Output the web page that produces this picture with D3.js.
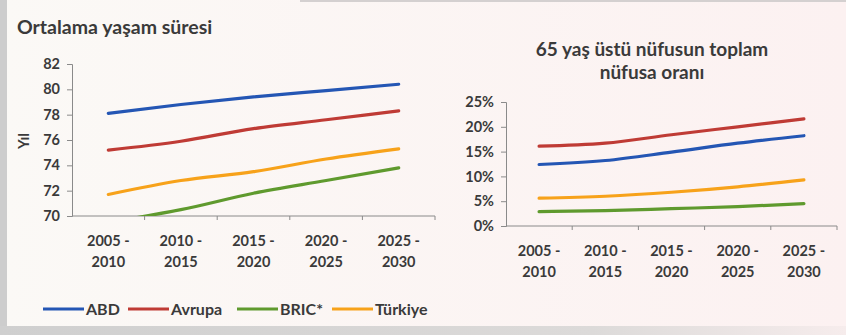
<!DOCTYPE html>
<html>
<head>
<meta charset="utf-8">
<script src="https://cdn.jsdelivr.net/npm/d3@7"></script>
<style>
  html, body { margin: 0; padding: 0; background: #fbf7f5; }
  svg { display: block; }
  text { font-family: Lato, "Open Sans", sans-serif; font-weight: 700; fill: #3a3a3a; }
</style>
</head>
<body>
<svg id="chart" width="846" height="335"></svg>
<script>
// Period categories shared by both panels (two-line labels)
const periods = ["2005 - 2010", "2010 - 2015", "2015 - 2020", "2020 - 2025", "2025 - 2030"];
const periodLines = [["2005 -", "2010"], ["2010 -", "2015"], ["2015 -", "2020"], ["2020 -", "2025"], ["2025 -", "2030"]];

const seriesNames = ["ABD", "Avrupa", "BRIC*", "Türkiye"];
const seriesColors = ["#2456b4", "#bf3b35", "#5f9a2e", "#f7a21a"];

// Life expectancy (years)
const lifeABD     = [78.1, 78.8, 79.4, 79.9, 80.4];
const lifeAvrupa  = [75.2, 75.9, 76.9, 77.6, 78.3];
const lifeBRIC    = [69.5, 70.5, 71.8, 72.8, 73.8];
const lifeTurkiye = [71.7, 72.8, 73.5, 74.5, 75.3];
const lifeTicks = [70, 72, 74, 76, 78, 80, 82];

// Share of population aged 65+ (%)
const oldABD     = [12.4, 13.2, 14.9, 16.7, 18.2];
const oldAvrupa  = [16.1, 16.7, 18.4, 20.0, 21.6];
const oldBRIC    = [2.9, 3.1, 3.5, 3.9, 4.5];
const oldTurkiye = [5.6, 6.0, 6.8, 7.9, 9.3];
const oldTicks = [0, 5, 10, 15, 20, 25];

const svg = d3.select("#chart");

// Page frame: grey strip on the left and along the bottom
const defs = svg.append("defs");
const gBottom = defs.append("linearGradient").attr("id", "bottomBand");
gBottom.append("stop").attr("offset", "0%").attr("stop-color", "#cfcfcf");
gBottom.append("stop").attr("offset", "70%").attr("stop-color", "#dcdad9");
gBottom.append("stop").attr("offset", "100%").attr("stop-color", "#f6ecec");
const gBg = defs.append("linearGradient").attr("id", "bgFill");
gBg.append("stop").attr("offset", "0%").attr("stop-color", "#fbf9f6");
gBg.append("stop").attr("offset", "100%").attr("stop-color", "#fcf1f1");

svg.append("rect").attr("width", 846).attr("height", 335).attr("fill", "url(#bgFill)");
svg.append("rect").attr("x", 0).attr("y", 0).attr("width", 7).attr("height", 335).attr("fill", "#cdcdcd");
svg.append("rect").attr("x", 0).attr("y", 326).attr("width", 846).attr("height", 9).attr("fill", "url(#bottomBand)");
svg.append("rect").attr("x", 300).attr("y", 0).attr("width", 546).attr("height", 2).attr("fill", "#d4d0d0");

function panel(opts) {
  const { x0, x1, yTop, yBot, domain, ticks, fmt, data, clipId } = opts;
  const x = d3.scaleBand().domain(periods).range([x0, x1]);
  const y = d3.scaleLinear().domain(domain).range([yBot, yTop]);
  const g = svg.append("g");

  // y axis
  const ya = g.append("g").attr("transform", `translate(${x0},0)`)
    .call(d3.axisLeft(y).tickValues(ticks).tickSize(5).tickPadding(7).tickFormat(fmt));
  ya.select(".domain").attr("stroke", "#8a8a8a");
  ya.selectAll(".tick line").attr("stroke", "#8a8a8a");
  ya.selectAll("text").attr("font-size", 14.5).attr("fill", "#3a3a3a")
    .attr("font-family", "Lato, sans-serif").attr("font-weight", 700);

  // x axis with boundary ticks
  const bounds = periods.map(p => x(p)).concat([x1]);
  g.append("line").attr("x1", x0).attr("x2", x1).attr("y1", yBot).attr("y2", yBot)
    .attr("stroke", "#8a8a8a");
  g.selectAll(".xtick").data(bounds.slice(1)).join("line")
    .attr("x1", d => d).attr("x2", d => d).attr("y1", yBot).attr("y2", yBot + 4)
    .attr("stroke", "#8a8a8a");
  periods.forEach((p, i) => {
    const t = g.append("text").attr("x", x(p) + x.bandwidth() / 2).attr("y", yBot + 30)
      .attr("text-anchor", "middle").attr("font-size", 14.5);
    t.append("tspan").attr("x", x(p) + x.bandwidth() / 2).text(periodLines[i][0]);
    t.append("tspan").attr("x", x(p) + x.bandwidth() / 2).attr("dy", 21).text(periodLines[i][1]);
  });

  defs.append("clipPath").attr("id", clipId).append("rect")
    .attr("x", x0).attr("y", yTop - 10).attr("width", x1 - x0).attr("height", yBot - yTop + 10);

  const line = d3.line()
    .x((d, i) => x(periods[i]) + x.bandwidth() / 2)
    .y(d => y(d))
    .curve(d3.curveMonotoneX);

  g.append("g").attr("clip-path", `url(#${clipId})`)
    .selectAll("path").data(data).join("path")
    .attr("d", d => line(d.values))
    .attr("fill", "none")
    .attr("stroke", d => d.color)
    .attr("stroke-width", 3.2)
    .attr("stroke-linecap", "round");
  return g;
}

const lifeData = [
  { values: lifeABD, color: seriesColors[0] },
  { values: lifeAvrupa, color: seriesColors[1] },
  { values: lifeBRIC, color: seriesColors[2] },
  { values: lifeTurkiye, color: seriesColors[3] }
];
const oldData = [
  { values: oldABD, color: seriesColors[0] },
  { values: oldAvrupa, color: seriesColors[1] },
  { values: oldBRIC, color: seriesColors[2] },
  { values: oldTurkiye, color: seriesColors[3] }
];

panel({ x0: 72, x1: 435, yTop: 64, yBot: 216, domain: [70, 82], ticks: lifeTicks,
        fmt: d => d, data: lifeData, clipId: "clipLife" });
panel({ x0: 506, x1: 837, yTop: 102, yBot: 226, domain: [0, 25], ticks: oldTicks,
        fmt: d => d + "%", data: oldData, clipId: "clipOld" });

// Titles
svg.append("text").attr("x", 17).attr("y", 34).attr("font-size", 19.5)
  .text("Ortalama yaşam süresi");
svg.append("text").attr("x", 652).attr("y", 56).attr("text-anchor", "middle").attr("font-size", 19)
  .text("65 yaş üstü nüfusun toplam");
svg.append("text").attr("x", 652).attr("y", 79).attr("text-anchor", "middle").attr("font-size", 19)
  .text("nüfusa oranı");

// Y axis title
svg.append("text").attr("transform", "translate(29,141) rotate(-90)")
  .attr("text-anchor", "middle").attr("font-size", 15).text("Yıl");

// Legend
const legendX = [43, 128, 237, 332];
const legend = svg.append("g").selectAll("g").data(seriesNames).join("g")
  .attr("transform", (d, i) => `translate(${legendX[i]},309)`);
legend.append("line").attr("x1", 0).attr("x2", 41).attr("y1", 0).attr("y2", 0)
  .attr("stroke", (d, i) => seriesColors[i]).attr("stroke-width", 3.2);
legend.append("text").attr("x", 43).attr("y", 5.5).attr("font-size", 16).text(d => d);
</script>
</body>
</html>
